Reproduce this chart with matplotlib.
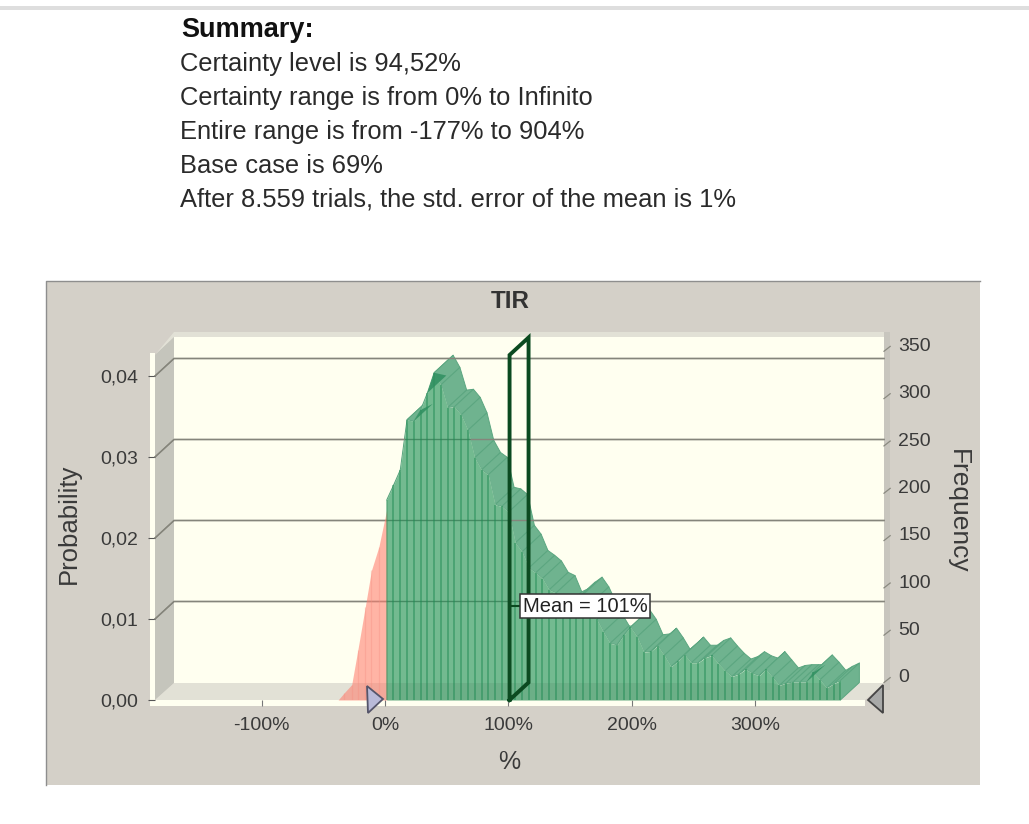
import numpy as np
import matplotlib
matplotlib.use("Agg")
import matplotlib.pyplot as plt
from matplotlib.patches import Polygon, Rectangle
from matplotlib.collections import PolyCollection

plt.rcParams['font.family'] = ['Liberation Sans', 'DejaVu Sans']

summary_title = "Summary:"
summary_lines = ["Certainty level is 94,52%",
                 "Certainty range is from 0% to Infinito",
                 "Entire range is from -177% to 904%",
                 "Base case is 69%",
                 "After 8.559 trials, the std. error of the mean is 1%"]
chart_title = "TIR"
x_label = "%"
y_label_left = "Probability"
y_label_right = "Frequency"
trials = 8559
mean_value = 101
mean_text = "Mean = 101%"
x_ticks = [-100, 0, 100, 200, 300]
x_tick_labels = ["-100%", "0%", "100%", "200%", "300%"]
prob_ticks = [0.00, 0.01, 0.02, 0.03, 0.04]
prob_tick_labels = ["0,00", "0,01", "0,02", "0,03", "0,04"]
freq_ticks = [0, 50, 100, 150, 200, 250, 300, 350]

tail_x = [-38, -33, -27, -22, -16, -11, -5, 1.4]
tail_p = [0.0, 0.0009, 0.0019, 0.0062, 0.0115, 0.016, 0.0189, 0.0235]

body_start = 1.4
body_step = 5.49
body_p = [0.0247, 0.0265, 0.0284, 0.0346, 0.0344, 0.0358, 0.0379, 0.0404, 0.0389, 0.0361,
          0.0362, 0.0352, 0.0333, 0.0299, 0.0284, 0.0278, 0.0241, 0.0239, 0.0232, 0.0194,
          0.0183, 0.0163, 0.0157, 0.0150, 0.0136, 0.0132, 0.0112, 0.0116, 0.0124, 0.0130,
          0.0118, 0.0100, 0.0084, 0.0070, 0.0068, 0.0080, 0.0090, 0.0078, 0.0059, 0.0060,
          0.0067, 0.0055, 0.0041, 0.0048, 0.0056, 0.0046, 0.0046, 0.0052, 0.0055, 0.0045,
          0.0036, 0.0029, 0.0032, 0.0038, 0.0033, 0.0030, 0.0038, 0.0028, 0.0018, 0.0021,
          0.0022, 0.0022, 0.0022, 0.0034, 0.0025, 0.0015, 0.0020, 0.0024]
sliver_bins = [4, 6, 62]

W, H = 1029, 824
fig = plt.figure(figsize=(W / 100, H / 100), dpi=100, facecolor='white')

# chrome, in pixel coordinates
bg = fig.add_axes([0, 0, 1, 1], zorder=0)
bg.set_xlim(0, W); bg.set_ylim(H, 0); bg.axis('off')
bg.add_patch(Rectangle((0, 6), W, 4, fc='#DEDEDE', ec='none'))
bg.add_patch(Rectangle((46, 281), 934, 504, fc='#D4D0C8', ec='none'))
bg.plot([46, 46, 980], [785, 281, 281], color='#8E8E8E', lw=1.0)
bg.add_patch(Polygon([(155, 355), (174, 332), (890, 332), (890, 338), (174, 338)], fc='#E2E1D6', ec='none'))
bg.add_patch(Rectangle((174, 337), 710, 346, fc='#FFFFF0', ec='none'))
bg.add_patch(Polygon([(155, 355), (174, 337), (174, 683), (155, 700)], fc='#C5C5BC', ec='none'))
bg.add_patch(Polygon([(155, 700), (174, 683), (884, 683), (865, 700)], fc='#E2E1D6', ec='none'))
bg.add_patch(Rectangle((884, 332), 6, 358, fc='#C8C6BE', ec='none'))
bg.add_patch(Rectangle((150, 353), 5, 353, fc='#FFFFF0', ec='none'))
bg.add_patch(Rectangle((150, 700), 715, 6, fc='#FFFFF0', ec='none'))

# data axes: the front plane of the pseudo-3D box
L, R, T, B = 155, 865, 355, 700
ax = fig.add_axes([L / W, (H - B) / H, (R - L) / W, (B - T) / H], zorder=1)
ax.patch.set_visible(False)
px_per_x, px_per_p = 1.2333, 8100
ax.set_xlim((L - 385) / px_per_x, (R - 385) / px_per_x)
ax.set_ylim(0, (B - T) / px_per_p)
for s in ax.spines.values():
    s.set_visible(False)
dx, dy = 19 / px_per_x, 17.5 / px_per_p
x_left, x_right = ax.get_xlim()

ax.set_xticks(x_ticks, x_tick_labels, fontsize=14, color='#3A3A3A')
ax.set_yticks(prob_ticks, prob_tick_labels, fontsize=14, color='#3A3A3A')
ax.tick_params(axis='x', length=4.5, width=0.8, color='#777777', pad=8)
ax.tick_params(axis='y', length=5, width=0.8, color='#555555', pad=7)


def draw_grid(z):
    for p in prob_ticks[1:]:
        ax.plot([x_left, x_left + dx, x_right + dx], [p, p + dy, p + dy], color='#85857B',
                lw=1.0, zorder=z, clip_on=False)


draw_grid(1)

body_x = body_start + body_step * np.arange(len(body_p))
body_y = np.array(body_p)

quads = [[(body_x[i], body_y[i]), (body_x[i + 1], body_y[i + 1]),
          (body_x[i + 1] + dx, body_y[i + 1] + dy), (body_x[i] + dx, body_y[i] + dy)]
         for i in range(len(body_x) - 1)]
quads.append([(body_x[-1], body_y[-1]), (body_x[-1], 0), (body_x[-1] + dx, dy), (body_x[-1] + dx, body_y[-1] + dy)])
ax.add_collection(PolyCollection(quads, facecolors='#6FB38F', edgecolors='#5BA680', linewidths=0.7,
                                 zorder=2, clip_on=False))

# opaque backing so the slanted band does not show through the front face
ax.fill_between(body_x, 0, body_y, color='#FFFFF0', lw=0, zorder=3)
draw_grid(4)
ax.fill_between(body_x, 0, body_y, color='#1E9055', alpha=0.62, lw=0, zorder=5)
ax.fill_between(body_x, 0, np.minimum(body_y, dy), color='#000000', alpha=0.06, lw=0, zorder=5)
ax.vlines(body_x, 0, body_y, color='#1E8A52', lw=1.1, alpha=0.6, zorder=6)
ax.fill_between(tail_x, 0, tail_p, color='#FF7F70', alpha=0.58, lw=0, zorder=5)
ax.vlines(tail_x[1:-1], 0, tail_p[1:-1], color='#F58E80', lw=0.9, alpha=0.35, zorder=6)

# the few rising facets that show in front of the face
slivers = [[(body_x[i], body_y[i]), (body_x[i] + dx, body_y[i] + dy), (body_x[i + 1], body_y[i + 1])]
           for i in sliver_bins]
ax.add_collection(PolyCollection(slivers, facecolors='#2F8F60', edgecolors='none', alpha=0.85,
                                 zorder=6, clip_on=False))

# mean marker
top = ax.get_ylim()[1]
ax.plot([mean_value, mean_value, mean_value + dx, mean_value + dx, mean_value],
        [0, top, top + dy, dy, 0], color='#0B4A20', lw=2.8, zorder=7, clip_on=False,
        solid_joinstyle='miter')
ax.plot([mean_value, mean_value + 9], [0.0116, 0.0116], color='#0B4A20', lw=1.5, zorder=7)
ax.annotate(mean_text, xy=(mean_value + 10.5, 0.0116), xycoords='data', va='center', ha='left',
            fontsize=14.5, color='#222222', zorder=8,
            bbox=dict(boxstyle='square,pad=0.14', fc='white', ec='#333333', lw=1.1))

# frequency scale on the back wall
for f in freq_ticks:
    p = f / trials
    ax.plot([x_right + dx, x_right + dx + 5], [p + dy, p + dy + 0.0006], color='#8A8A80', lw=0.9,
            clip_on=False, zorder=2)
    ax.text(x_right + dx + 11.5, p + dy + 0.0006, str(f), fontsize=14, color='#3A3A3A',
            va='center', ha='left', clip_on=False)

# certainty grabbers
bg2 = fig.add_axes([0, 0, 1, 1], zorder=2)
bg2.set_xlim(0, W); bg2.set_ylim(H, 0); bg2.axis('off')
bg2.add_patch(Polygon([(367, 686), (383, 699), (368, 713)], fc='#B9BAD8', ec='#55556A', lw=1.3))
bg2.add_patch(Polygon([(883, 685), (868, 700), (883, 713)], fc='#A8A9A8', ec='#444444', lw=1.3))


def t(x, y, s, **kw):
    kw.setdefault('color', '#2A2A2A')
    fig.text(x / W, 1 - y / H, s, **kw)


t(181, 30, summary_title, fontsize=19.5, fontweight='bold', va='center', ha='left', color='#111111')
for y, s in zip([64, 98, 132, 166, 200], summary_lines):
    t(180, y, s, fontsize=18.4, va='center', ha='left')
t(510, 302, chart_title, fontsize=17.5, fontweight='bold', ha='center', va='center', color='#333333')
t(509, 762, x_label, fontsize=18, ha='center', va='center', color='#3A3A3A')
t(69, 524, y_label_left, fontsize=18.5, rotation=90, ha='center', va='center', color='#3A3A3A')
t(958, 511, y_label_right, fontsize=19, rotation=270, ha='center', va='center', color='#3A3A3A')

fig.savefig('out.png', dpi=100)
